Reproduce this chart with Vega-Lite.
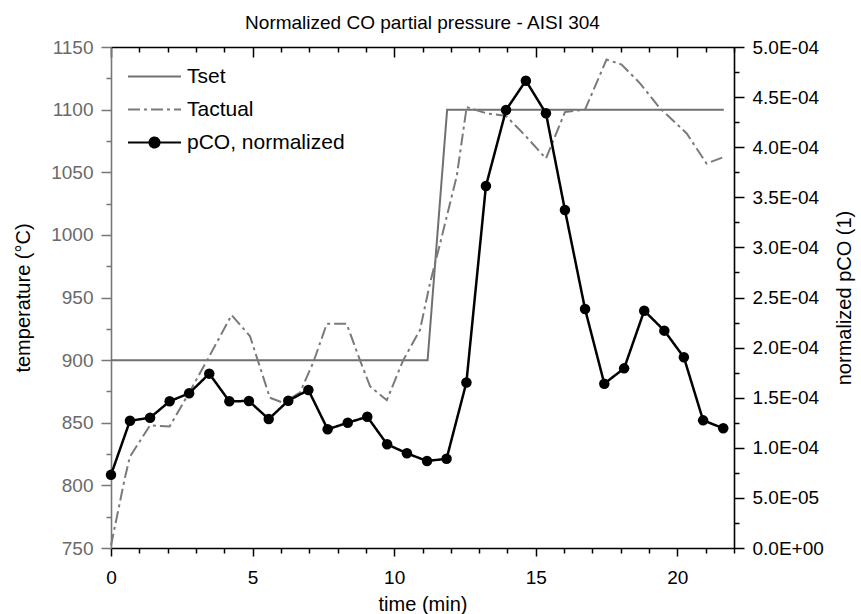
{
  "$schema": "https://vega.github.io/schema/vega-lite/v6.json",
  "width": 623,
  "height": 501,
  "autosize": "none",
  "padding": {"left": 111, "top": 47, "right": 127, "bottom": 66},
  "background": "#ffffff",
  "title": {"text": "Normalized CO partial pressure - AISI 304", "fontSize": 19, "font": "Liberation Sans", "fontWeight": "normal", "color": "#000", "offset": 17, "baseline": "alphabetic", "dy": 27},
  "datasets": {
    "temps": [
      {"series": "Tset", "t": 0, "T": 900},
      {"series": "Tset", "t": 11.18, "T": 900},
      {"series": "Tset", "t": 11.87, "T": 1100},
      {"series": "Tset", "t": 21.64, "T": 1100},
      {"series": "Tactual", "t": 0, "T": 752},
      {"series": "Tactual", "t": 0.49, "T": 806},
      {"series": "Tactual", "t": 0.67, "T": 823},
      {"series": "Tactual", "t": 1.38, "T": 848},
      {"series": "Tactual", "t": 2.07, "T": 847},
      {"series": "Tactual", "t": 2.76, "T": 874},
      {"series": "Tactual", "t": 3.47, "T": 903},
      {"series": "Tactual", "t": 4.26, "T": 936},
      {"series": "Tactual", "t": 4.91, "T": 919},
      {"series": "Tactual", "t": 5.61, "T": 870},
      {"series": "Tactual", "t": 6.08, "T": 866},
      {"series": "Tactual", "t": 6.67, "T": 874},
      {"series": "Tactual", "t": 7.14, "T": 898},
      {"series": "Tactual", "t": 7.62, "T": 929},
      {"series": "Tactual", "t": 8.32, "T": 929},
      {"series": "Tactual", "t": 8.79, "T": 900},
      {"series": "Tactual", "t": 9.15, "T": 879},
      {"series": "Tactual", "t": 9.74, "T": 868},
      {"series": "Tactual", "t": 10.32, "T": 900},
      {"series": "Tactual", "t": 10.91, "T": 924},
      {"series": "Tactual", "t": 11.26, "T": 961},
      {"series": "Tactual", "t": 11.62, "T": 993},
      {"series": "Tactual", "t": 12.21, "T": 1047},
      {"series": "Tactual", "t": 12.56, "T": 1102},
      {"series": "Tactual", "t": 13.27, "T": 1097},
      {"series": "Tactual", "t": 13.95, "T": 1095},
      {"series": "Tactual", "t": 14.68, "T": 1078},
      {"series": "Tactual", "t": 15.36, "T": 1061},
      {"series": "Tactual", "t": 16.03, "T": 1098},
      {"series": "Tactual", "t": 16.74, "T": 1100},
      {"series": "Tactual", "t": 17.5, "T": 1140},
      {"series": "Tactual", "t": 18.03, "T": 1136},
      {"series": "Tactual", "t": 18.68, "T": 1121},
      {"series": "Tactual", "t": 19.39, "T": 1101},
      {"series": "Tactual", "t": 20.33, "T": 1081},
      {"series": "Tactual", "t": 21.03, "T": 1057},
      {"series": "Tactual", "t": 21.62, "T": 1062}
    ],
    "pco": [
      {"series": "pCO, normalized", "t": 0, "p": 7.3e-5},
      {"series": "pCO, normalized", "t": 0.67, "p": 1.27e-4},
      {"series": "pCO, normalized", "t": 1.38, "p": 1.30e-4},
      {"series": "pCO, normalized", "t": 2.07, "p": 1.464e-4},
      {"series": "pCO, normalized", "t": 2.76, "p": 1.544e-4},
      {"series": "pCO, normalized", "t": 3.47, "p": 1.74e-4},
      {"series": "pCO, normalized", "t": 4.18, "p": 1.464e-4},
      {"series": "pCO, normalized", "t": 4.87, "p": 1.467e-4},
      {"series": "pCO, normalized", "t": 5.57, "p": 1.287e-4},
      {"series": "pCO, normalized", "t": 6.26, "p": 1.47e-4},
      {"series": "pCO, normalized", "t": 6.97, "p": 1.577e-4},
      {"series": "pCO, normalized", "t": 7.65, "p": 1.185e-4},
      {"series": "pCO, normalized", "t": 8.36, "p": 1.25e-4},
      {"series": "pCO, normalized", "t": 9.05, "p": 1.31e-4},
      {"series": "pCO, normalized", "t": 9.75, "p": 1.035e-4},
      {"series": "pCO, normalized", "t": 10.45, "p": 9.45e-5},
      {"series": "pCO, normalized", "t": 11.16, "p": 8.68e-5},
      {"series": "pCO, normalized", "t": 11.85, "p": 8.91e-5},
      {"series": "pCO, normalized", "t": 12.55, "p": 1.652e-4},
      {"series": "pCO, normalized", "t": 13.24, "p": 3.613e-4},
      {"series": "pCO, normalized", "t": 13.95, "p": 4.371e-4},
      {"series": "pCO, normalized", "t": 14.65, "p": 4.664e-4},
      {"series": "pCO, normalized", "t": 15.36, "p": 4.338e-4},
      {"series": "pCO, normalized", "t": 16.03, "p": 3.373e-4},
      {"series": "pCO, normalized", "t": 16.74, "p": 2.385e-4},
      {"series": "pCO, normalized", "t": 17.42, "p": 1.64e-4},
      {"series": "pCO, normalized", "t": 18.12, "p": 1.793e-4},
      {"series": "pCO, normalized", "t": 18.83, "p": 2.368e-4},
      {"series": "pCO, normalized", "t": 19.54, "p": 2.169e-4},
      {"series": "pCO, normalized", "t": 20.23, "p": 1.903e-4},
      {"series": "pCO, normalized", "t": 20.91, "p": 1.274e-4},
      {"series": "pCO, normalized", "t": 21.62, "p": 1.195e-4}
    ]
  },
  "layer": [
    {
      "data": {"name": "temps"},
      "mark": {"type": "line", "strokeWidth": 2},
      "encoding": {
        "x": {
          "field": "t", "type": "quantitative",
          "scale": {"domain": [0, 22], "nice": false, "zero": false},
          "axis": {
            "orient": "bottom",
            "values": [0,1,2,3,4,5,6,7,8,9,10,11,12,13,14,15,16,17,18,19,20,21,22],
            "format": "d",
            "labelExpr": "datum.value % 5 === 0 ? datum.label : ''",
            "tickSize": {"condition": {"test": "datum.value % 5 === 0", "value": 8}, "value": 5},
            "labelPadding": 12,
            "labelOverlap": false,
            "labelFlush": false,
            "title": "time (min)",
            "titlePadding": 7
          }
        },
        "y": {
          "field": "T", "type": "quantitative",
          "scale": {"domain": [750, 1150], "nice": false, "zero": false},
          "axis": {
            "orient": "left",
            "values": [750,775,800,825,850,875,900,925,950,975,1000,1025,1050,1075,1100,1125,1150],
            "format": "d",
            "labelExpr": "datum.value % 50 === 0 ? datum.label : ''",
            "tickSize": {"condition": {"test": "datum.value % 50 === 0", "value": 10}, "value": 5},
            "labelPadding": 8,
            "labelOverlap": false,
            "labelColor": "#6a6a6a",
            "domainColor": "#777777",
            "tickColor": "#777777",
            "title": "temperature (°C)",
            "titlePadding": 17
          }
        },
        "color": {
          "field": "series", "type": "nominal",
          "scale": {"domain": ["Tset", "Tactual", "pCO, normalized"], "range": ["#707070", "#7a7a7a", "#000000"]},
          "legend": {
            "title": null, "orient": "none", "legendX": 29, "legendY": 15,
            "symbolSize": 702, "symbolStrokeWidth": 2, "symbolType": "M-2,0H2",
            "labelFontSize": 21, "labelFont": "Liberation Sans", "labelColor": "#000", "labelOffset": 18, "rowPadding": 8,
            "encode": {"symbols": {"update": {
              "shape": {"signal": "datum.value === 'pCO, normalized' ? 'M-2,0H2M-0.38,0A0.38,0.38,0,1,0,0.38,0A0.38,0.38,0,1,0,-0.38,0Z' : 'M-2,0H2'"},
              "fill": {"signal": "datum.value === 'pCO, normalized' ? '#000000' : 'transparent'"}
            }}}
          }
        },
        "strokeDash": {
          "field": "series", "type": "nominal",
          "scale": {"domain": ["Tset", "Tactual", "pCO, normalized"], "range": [[1, 0], [12, 4, 3, 4], [1, 0]]},
          "legend": {
            "title": null, "orient": "none", "legendX": 29, "legendY": 15,
            "symbolSize": 702, "symbolStrokeWidth": 2, "symbolType": "M-2,0H2",
            "labelFontSize": 21, "labelFont": "Liberation Sans", "labelColor": "#000", "labelOffset": 18, "rowPadding": 8,
            "encode": {"symbols": {"update": {
              "shape": {"signal": "datum.value === 'pCO, normalized' ? 'M-2,0H2M-0.38,0A0.38,0.38,0,1,0,0.38,0A0.38,0.38,0,1,0,-0.38,0Z' : 'M-2,0H2'"},
              "fill": {"signal": "datum.value === 'pCO, normalized' ? '#000000' : 'transparent'"}
            }}}
          }
        }
      }
    },
    {
      "data": {"name": "pco"},
      "encoding": {
        "x": {
          "field": "t", "type": "quantitative",
          "scale": {"domain": [0, 22], "nice": false, "zero": false},
          "axis": {
            "orient": "top",
            "values": [0,1,2,3,4,5,6,7,8,9,10,11,12,13,14,15,16,17,18,19,20,21,22],
            "labels": false,
            "title": null,
            "tickSize": {"condition": {"test": "datum.value % 5 === 0", "value": -10}, "value": -5}
          }
        },
        "y": {
          "field": "p", "type": "quantitative",
          "scale": {"domain": [0, 0.0005], "nice": false, "zero": false},
          "axis": {
            "orient": "right",
            "values": [0, 0.000025, 0.00005, 0.000075, 0.0001, 0.000125, 0.00015, 0.000175, 0.0002, 0.000225, 0.00025, 0.000275, 0.0003, 0.000325, 0.00035, 0.000375, 0.0004, 0.000425, 0.00045, 0.000475, 0.0005],
            "labelExpr": "round(datum.value / 0.000025) % 2 === 0 ? replace(replace(format(datum.value, '.1e'), 'e-', 'E-0'), 'e+', 'E+0') : ''",
            "tickSize": {"condition": {"test": "round(datum.value / 0.000025) % 2 === 0", "value": 10}, "value": 5},
            "labelPadding": 8,
            "labelOverlap": false,
            "title": "normalized pCO (1)",
            "titleAngle": 270,
            "titleBaseline": "top",
            "titlePadding": 11
          }
        }
      },
      "layer": [
        {
          "mark": {"type": "line", "strokeWidth": 2.5},
          "encoding": {
            "color": {
              "field": "series", "type": "nominal",
              "scale": {"domain": ["Tset", "Tactual", "pCO, normalized"], "range": ["#707070", "#7a7a7a", "#000000"]}
            },
            "strokeDash": {
              "field": "series", "type": "nominal",
              "scale": {"domain": ["Tset", "Tactual", "pCO, normalized"], "range": [[1, 0], [12, 4, 3, 4], [1, 0]]}
            }
          }
        },
        {
          "mark": {"type": "point", "filled": true, "size": 110, "color": "#000000", "opacity": 1, "strokeWidth": 0}
        }
      ]
    }
  ],
  "resolve": {"scale": {"y": "independent"}, "axis": {"x": "independent", "y": "independent"}},
  "config": {
    "font": "Liberation Sans",
    "view": {"stroke": null},
    "axis": {
      "grid": false,
      "labelFont": "Liberation Sans", "titleFont": "Liberation Sans",
      "labelFontSize": 19, "titleFontSize": 20, "titleFontWeight": "normal",
      "labelColor": "#000000", "titleColor": "#000000",
      "domainColor": "#000000", "tickColor": "#000000",
      "domainWidth": 1.6, "tickWidth": 1.5
    }
  }
}
